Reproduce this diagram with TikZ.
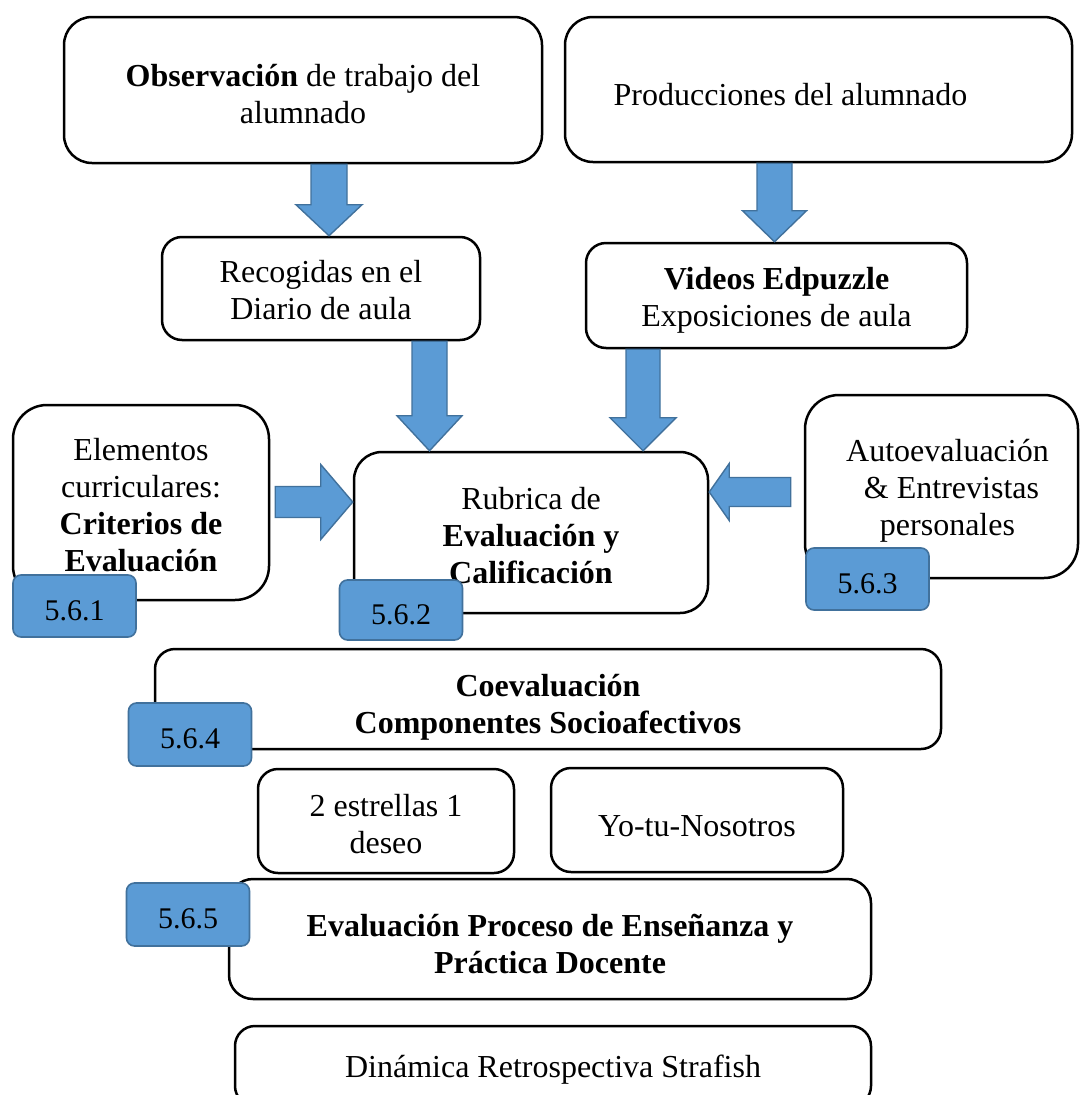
\documentclass[tikz,border=0pt]{standalone}
\usepackage{fontspec}
\setmainfont{Liberation Serif}
\usetikzlibrary{calc}
\definecolor{badgeblue}{HTML}{5B9BD5}
\definecolor{badgeedge}{HTML}{41719C}
\tikzset{
  card/.style={draw=black, line width=2.5pt, rounded corners=#1, fill=white, inner sep=0pt},
  card/.default=24pt,
  sz/.style 2 args={minimum width=#1pt, minimum height=#2pt},
  txt/.style={align=center, inner sep=0pt, font=\fontsize{32}{37}\selectfont},
  badge/.style={draw=badgeedge, line width=1.6pt, fill=badgeblue,
    rounded corners=8pt, minimum width=123pt, minimum height=62pt,
    inner sep=0pt, text height=28pt, text depth=0pt, font=\fontsize{30}{34}\selectfont},
  blk/.style={draw=badgeedge, line width=1.4pt, fill=badgeblue, line join=miter}
}
% block arrow pointing down: x, source, target, shaft half, head half, head length
\newcommand\blockdown[6]{%
  \draw[blk] let \p1=(#2.south), \p2=(#3.north) in
    (#1pt-#4pt,\y1) -- (#1pt+#4pt,\y1) -- (#1pt+#4pt,\y2+#6pt) -- (#1pt+#5pt,\y2+#6pt)
    -- (#1pt,\y2) -- (#1pt-#5pt,\y2+#6pt) -- (#1pt-#4pt,\y2+#6pt) -- cycle;}
% block arrow pointing right: y, source, target, gap, shaft half, head half, head length
\newcommand\blockright[7]{%
  \draw[blk] let \p1=(#2.east), \p2=(#3.west) in
    (\x1+#4pt,-#1pt+#5pt) -- (\x2-#7pt,-#1pt+#5pt) -- (\x2-#7pt,-#1pt+#6pt) -- (\x2,-#1pt)
    -- (\x2-#7pt,-#1pt-#6pt) -- (\x2-#7pt,-#1pt-#5pt) -- (\x1+#4pt,-#1pt-#5pt) -- cycle;}
% block arrow pointing left
\newcommand\blockleft[7]{%
  \draw[blk] let \p1=(#2.west), \p2=(#3.east) in
    (\x1-#4pt,-#1pt+#5pt) -- (\x2+#7pt,-#1pt+#5pt) -- (\x2+#7pt,-#1pt+#6pt) -- (\x2,-#1pt)
    -- (\x2+#7pt,-#1pt-#6pt) -- (\x2+#7pt,-#1pt-#5pt) -- (\x1-#4pt,-#1pt-#5pt) -- cycle;}
\begin{document}
\begin{tikzpicture}[x=1pt,y=-1pt]
\useasboundingbox (0,0) rectangle (1080,1095);
\clip (0,0) rectangle (1080,1095);
\fill[white] (0,0) rectangle (1080,1095);

% top row
\node[card=28pt, sz={478}{146}] (obs) at (303,90) {};
\node[txt] (obs-t) at ($(obs.center)+(0,4)$) {\textbf{Observación} de trabajo del\\alumnado};
\node[card=28pt, sz={507}{145}] (prod) at (818.5,89.5) {};
\node[txt] (prod-t) at ($(prod.center)+(-28,5)$) {Producciones del alumnado};

% second row
\node[card=20pt, sz={318}{103}] (rec) at (321,288.5) {};
\node[txt] (rec-t) at ($(rec.center)+(0,2)$) {Recogidas en el\\Diario de aula};
\node[card=20pt, sz={381}{105}] (vid) at (776.5,295.5) {};
\node[txt] (vid-t) at ($(vid.center)+(0,5)$) {\textbf{Videos Edpuzzle}\\Exposiciones de aula};

% middle row
\node[card=34pt, sz={256}{195}] (elem) at (141,502.5) {};
\node[txt] (elem-t) at ($(elem.center)+(0,3)$) {Elementos\\curriculares:\\\textbf{Criterios de}\\\textbf{Evaluación}};
\node[card=28pt, sz={354}{161}] (rub) at (531,532.5) {};
\node[txt] (rub-t) at ($(rub.center)+(0,3)$) {Rubrica de\\\textbf{Evaluación y}\\\textbf{Calificación}};
\node[card=34pt, sz={273}{183}] (auto) at (941.5,486.5) {};
\node[txt] (auto-t) at ($(auto.center)+(6,4)$) {Autoevaluación\\\ \& Entrevistas\\personales};

% lower rows
\node[card=20pt, sz={786}{100}] (coev) at (548,699) {};
\node[txt] (coev-t) at ($(coev.center)+(0,8)$) {\textbf{Coevaluación}\\\textbf{Componentes Socioafectivos}};
\node[card=20pt, sz={256}{104}] (est) at (386,821) {};
\node[txt] (est-t) at ($(est.center)+(0,3)$) {2 estrellas 1\\deseo};
\node[card=20pt, sz={292}{104}] (yo) at (697,820) {};
\node[txt] (yo-t) at ($(yo.center)+(0,6)$) {Yo-tu-Nosotros};
\node[card=24pt, sz={642}{120}] (proc) at (550,939) {};
\node[txt] (proc-t) at ($(proc.center)+(0,5)$) {\textbf{Evaluación Proceso de Enseñanza y}\\\textbf{Práctica Docente}};
\node[card=20pt, sz={636}{80}] (din) at (553,1066) {};
\node[txt] (din-t) at ($(din.center)+(0,4)$) {Dinámica Retrospectiva Strafish};

% arrows
\blockdown{329}{obs}{rec}{18}{33}{31}
\blockdown{774.5}{prod}{vid}{17.5}{32}{31}
\blockdown{429.5}{rec}{rub}{17.5}{32.5}{35}
\blockdown{643}{vid}{rub}{17}{33}{33}
\blockright{502}{elem}{rub}{5}{15.5}{37.5}{32}
\blockleft{492}{auto}{rub}{13}{14.5}{28.5}{20}

% section badges
\node[badge] (b1) at (74.5,606) {5.6.1};
\node[badge, minimum height=60pt] (b2) at (401,610) {5.6.2};
\node[badge] (b3) at (867.5,579) {5.6.3};
\node[badge, minimum height=63pt] (b4) at (190,734.5) {5.6.4};
\node[badge, minimum height=63pt] (b5) at (188,914.5) {5.6.5};
\end{tikzpicture}
\end{document}
